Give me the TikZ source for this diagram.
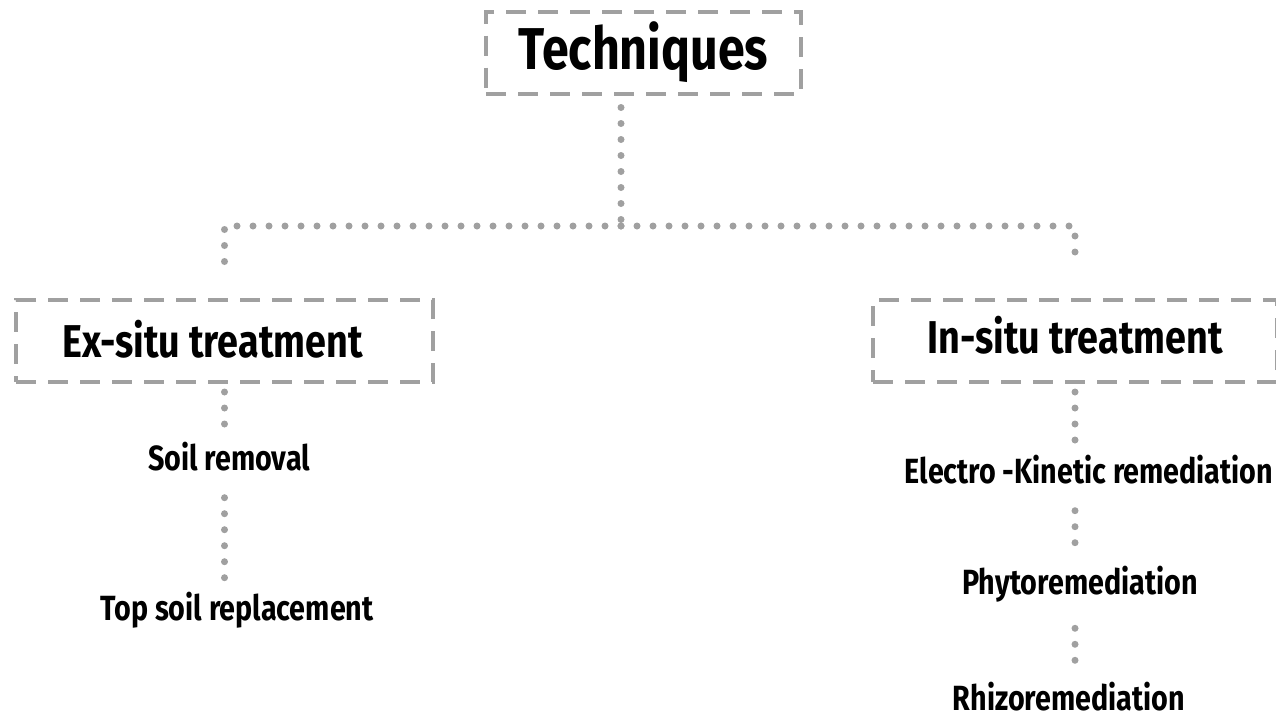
\documentclass[tikz,border=0pt]{standalone}
\usepackage{fontspec}
\setmainfont{Fira Sans}[FakeStretch=0.82]
\usepackage{tikz}
\usetikzlibrary{calc}
\definecolor{colLINE}{RGB}{160,160,160}

\tikzset{
  headbox/.style={draw=colLINE, line width=4pt, dash pattern=on 20pt off 12pt,
    minimum height=82pt, inner sep=0pt, font=\bfseries},
  dotline/.style={colLINE, line width=7pt, line cap=round, dash pattern=on 0pt off 16pt},
  leaf/.style={font=\bfseries\fontsize{35}{38}\selectfont, inner sep=0pt}
}

\begin{document}
\begin{tikzpicture}[x=1pt, y=-1pt]
  \useasboundingbox (0,0) rectangle (1276,718);
  % --- top level ---
  \node[headbox, minimum width=315pt, font=\bfseries\fontsize{59}{61}\selectfont] (tech) at (643.5,52.5) {\raisebox{-2pt}{Techniques}};
  \coordinate (hub) at (621,226);
  % --- second level ---
  \node[headbox, minimum width=417pt, font=\bfseries\fontsize{46}{48}\selectfont] (exsitu) at (224.5,341) {\hspace*{-24pt}\raisebox{4pt}{Ex-situ treatment}};
  \node[headbox, minimum width=404pt, font=\bfseries\fontsize{46}{48}\selectfont] (insitu) at (1075,341) {\raisebox{13pt}{In-situ treatment}};
  % --- leaves, ex-situ ---
  \node[leaf] (soil) at (229,457) {Soil removal};
  \node[leaf] (topsoil) at (237,610) {Top soil replacement};
  % --- leaves, in-situ ---
  \node[leaf] (electro) at (1089,470) {Electro -Kinetic remediation};
  \node[leaf] (phyto) at (1080,584) {Phytoremediation};
  \node[leaf] (rhizo) at (1069,697) {Rhizoremediation};
  % --- connectors ---
  \draw[dotline] ($(hub |- tech.south)+(0,12)$) -- (hub);
  \draw[dotline] (hub) -| ($(exsitu.north)+(0,-25)$);
  \draw[dotline] (hub) -| ($(insitu.north)+(0,-37)$);
  \draw[dotline] ($(exsitu.south)+(0,8)$) -- ($(exsitu.south |- soil.north)+(0,-8)$);
  \draw[dotline] ($(exsitu.south |- soil.south)+(0,26)$) -- ($(exsitu.south |- topsoil.north)+(0,-12)$);
  \draw[dotline] ($(insitu.south)+(0,8)$) -- ($(insitu.south |- electro.north)+(0,-10)$);
  \draw[dotline] ($(insitu.south |- electro.south)+(0,26)$) -- ($(insitu.south |- phyto.north)+(0,-12)$);
  \draw[dotline] ($(insitu.south |- phyto.south)+(0,26)$) -- ($(insitu.south |- rhizo.north)+(0,-12)$);
\end{tikzpicture}
\end{document}
